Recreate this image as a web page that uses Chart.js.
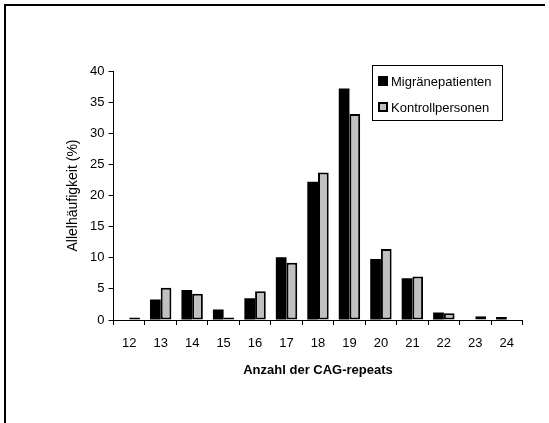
<!DOCTYPE html>
<html>
<head>
<meta charset="utf-8">
<script src="https://cdn.jsdelivr.net/npm/chart.js@4.4.1/dist/chart.umd.min.js"></script>
<style>
  html, body { margin: 0; padding: 0; background: #fff; }
  #wrap { position: relative; width: 549px; height: 423px; }
  #frame { position: absolute; left: 4px; top: 4px; width: 541px; height: 419px;
           border-left: 2px solid #000; border-top: 2px solid #000; box-sizing: border-box; }
  canvas { position: absolute; left: 0; top: 0; }
</style>
</head>
<body>
<div id="wrap">
  <canvas id="chart" width="549" height="423"></canvas>
  <div id="frame"></div>
</div>
<script>
// CAG-repeat allele frequencies (%)
const repeats = ['12', '13', '14', '15', '16', '17', '18', '19', '20', '21', '22', '23', '24'];
const migraene = [0, 3.3, 4.8, 1.7, 3.5, 10.1, 22.2, 37.2, 9.8, 6.7, 1.2, 0, 0.5];
const kontrolle = [0.4, 5.2, 4.2, 0.4, 4.6, 9.2, 23.7, 33.1, 11.4, 7.0, 1.1, 0.6, 0];
const yTicks = [0, 5, 10, 15, 20, 25, 30, 35, 40];

const FONT = 'Liberation Sans, Arial, sans-serif';

// legend box drawn inside the plot, like the original
const boxLegend = {
  id: 'boxLegend',
  afterDraw(chart) {
    const ctx = chart.ctx;
    const x = 372.5, y = 65.5, w = 130, h = 55;
    ctx.save();
    ctx.fillStyle = '#fff';
    ctx.fillRect(x, y, w, h);
    ctx.strokeStyle = '#000';
    ctx.lineWidth = 1;
    ctx.strokeRect(x, y, w, h);
    ctx.font = '13px ' + FONT;
    ctx.textBaseline = 'middle';
    chart.data.datasets.forEach((ds, i) => {
      const cy = 81 + i * 26;
      ctx.fillStyle = '#000';
      ctx.fillRect(378, cy - 5, 10, 10);
      ctx.fillStyle = ds.backgroundColor;
      ctx.fillRect(380, cy - 3, 6, 6);
      ctx.fillStyle = '#000';
      ctx.fillText(ds.label, 391, cy + 1);
    });
    ctx.restore();
  }
};

new Chart(document.getElementById('chart'), {
  type: 'bar',
  data: {
    labels: repeats,
    datasets: [
      { label: 'Migränepatienten', data: migraene, backgroundColor: '#000', borderWidth: 0 },
      { label: 'Kontrollpersonen', data: kontrolle, backgroundColor: '#c0c0c0', borderColor: '#000',
        borderWidth: 2, borderSkipped: false }
    ]
  },
  options: {
    responsive: false,
    animation: false,
    layout: { padding: { left: 65, right: 26.5, top: 71, bottom: 45 } },
    datasets: { bar: { categoryPercentage: 0.68, barPercentage: 1.0 } },
    plugins: { legend: { display: false }, tooltip: { enabled: false } },
    scales: {
      x: {
        afterFit: (s) => { s.height = 58; },
        grid: { offset: true, drawOnChartArea: false, drawTicks: true, tickLength: 5, color: '#000' },
        border: { color: '#000', width: 1 },
        ticks: { color: '#000', padding: 11, font: { family: FONT, size: 13 } },
        title: { display: true, text: 'Anzahl der CAG-repeats', color: '#000', padding: 0,
                 font: { family: FONT, size: 13, weight: 'bold' } }
      },
      y: {
        min: 0, max: 40,
        afterFit: (s) => { s.width = 48.5; },
        afterBuildTicks: (s) => { s.ticks = yTicks.map(v => ({ value: v })); },
        grid: { drawOnChartArea: false, drawTicks: true, tickLength: 5, color: '#000' },
        border: { color: '#000', width: 1 },
        ticks: { color: '#000', padding: 4, font: { family: FONT, size: 13 } },
        title: { display: true, text: 'Allelhäufigkeit (%)', color: '#000', padding: 0,
                 font: { family: FONT, size: 14 } }
      }
    }
  },
  plugins: [boxLegend]
});
</script>
</body>
</html>
